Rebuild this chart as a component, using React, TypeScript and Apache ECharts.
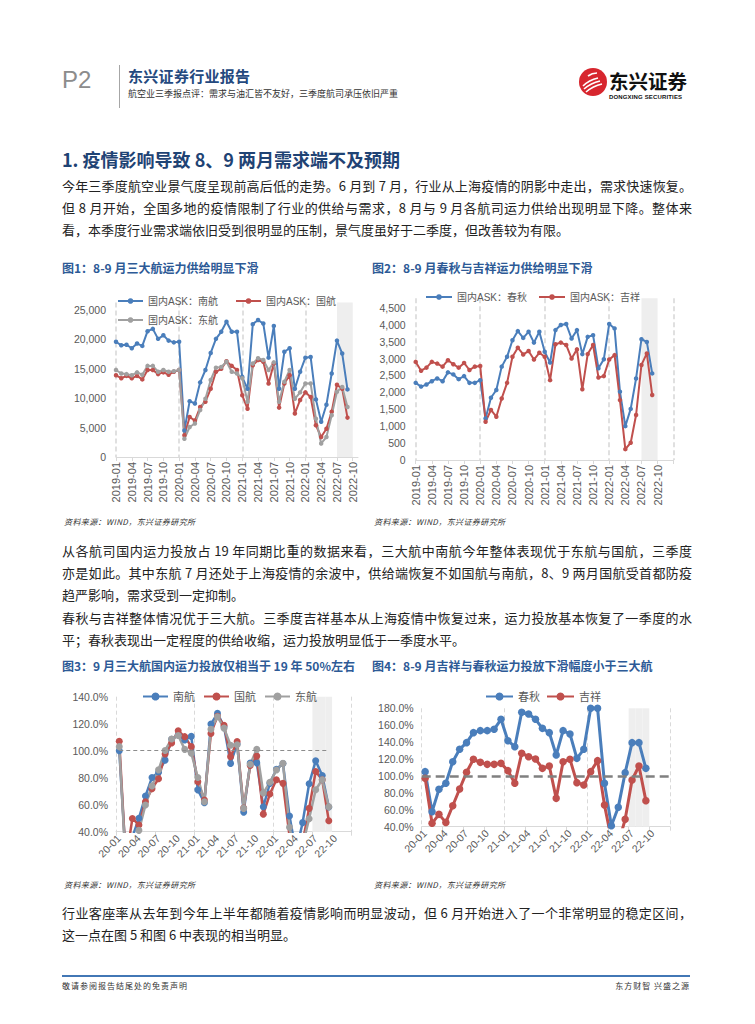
import React, { useEffect, useRef } from "react";
import * as echarts from "echarts";

const CN = '"Noto Sans CJK SC", "Noto Sans", sans-serif';
const AX = '"Liberation Sans", Arial, "Noto Sans CJK SC", sans-serif';
const BLUE = "#4A7EBB";
const RED = "#C0504D";
const GRAY = "#A0A0A0";
const LABEL = "#595959";
const GRIDC = "#D9D9D9";

const pad = (m: number) => (m < 10 ? "0" + m : "" + m);
const ym = (y0: number, n: number, short: boolean) =>
  Array.from({ length: n }, (_, k) => {
    const y = y0 + Math.floor(k / 12);
    const m = (k % 12) + 1;
    return (short ? String(y).slice(2) : String(y)) + "-" + pad(m);
  });

// ---------- Figure 1: domestic ASK of the big three (2019-01 … 2022-09)
const months1 = ym(2019, 47, false);
const askNanhang = [
  19600, 19000, 19100, 18500, 19300, 18900, 21400, 21800, 20100, 20700, 19800, 19500,
  19600, 4500, 9500, 9100, 12700, 14800, 17700, 20100, 21300, 23000, 21300, 21300,
  13600, 11600, 22600, 23300, 22700, 16900, 22300, 11600, 17900, 18500, 11600, 14500,
  16900, 17000, 9800, 6000, 8900, 14200, 19800, 17600, 11500,
];
const askGuohang = [
  13900, 13400, 13800, 13400, 13800, 13200, 14800, 14800, 14100, 14400, 14000, 14500,
  14800, 3700, 6800, 6200, 8500, 9400, 11600, 14500, 15000, 16300, 15500, 14800,
  10500, 8200, 15600, 16500, 16200, 12500, 15900, 8400, 12500, 13900, 7400, 9700,
  11000, 10200, 5400, 3400, 4800, 7700, 12300, 11600, 6700,
];
const askDonghang = [
  14800, 14200, 14100, 13900, 14400, 14000, 15500, 15500, 14500, 14800, 14500, 14600,
  14800, 3100, 5100, 5700, 8000, 9900, 13100, 15200, 15300, 16200, 14500, 14200,
  13400, 9400, 15900, 16800, 16500, 14800, 16100, 9400, 12800, 14800, 9900, 11000,
  12500, 12500, 6500, 2300, 3400, 7100, 11100, 11900, 8500,
];

// ---------- Figure 2: domestic ASK of Spring & Juneyao
const months2 = ym(2019, 49, false);
const askChunqiu = [
  2280, 2170, 2230, 2330, 2410, 2330, 2590, 2530, 2390, 2480, 2280, 2280,
  2360, 1230, 1840, 2070, 2760, 3050, 3540, 3810, 3610, 3790, 3470, 3790,
  3200, 2880, 3840, 3990, 4020, 3590, 3840, 3130, 3640, 3690, 2710, 2980,
  4020, 3890, 2020, 1000, 1510, 2410, 3570, 3490, 2560,
];
const askJixiang = [
  2900, 2640, 2730, 2900, 2850, 2760, 2950, 2830, 2730, 2870, 2660, 2760,
  2780, 1130, 1480, 1280, 1820, 2280, 3050, 3320, 3120, 3220, 2970, 3170,
  3050, 2360, 3420, 3470, 3400, 3000, 3270, 2090, 3130, 3400, 2440, 2480,
  2970, 3100, 1770, 320, 510, 1330, 2810, 3150, 1920,
];

// ---------- Figure 3 & 4: share of same month 2019 (20-01 … 22-09)
const months3 = ym(2020, 36, true);
const pctNanhang = [
  100, 20, 36, 50, 66.4, 80.2, 84, 93, 108.4, 111.6, 108, 110.6,
  71, 61.5, 119.7, 127.7, 117.8, 90.6, 105, 54.5, 90.8, 91, 58.5, 75.8,
  86.3, 90.5, 51.6, 25, 46.7, 75.5, 92.5, 81.6, 58.3,
];
const pctGuohang = [
  107, 18, 49.8, 45, 62.2, 71.9, 79.2, 97.5, 105.7, 114.7, 110.4, 103,
  77, 63.5, 112.8, 125.5, 118.8, 95.6, 106.8, 57.5, 89, 96, 53, 67.9,
  78.5, 75.8, 37, 20, 32, 57.3, 84.6, 78.5, 48.1,
];
const pctDonghang = [
  103, 15, 30, 41, 59.8, 73.8, 85.8, 100.2, 108.7, 111.2, 101, 98.2,
  80.1, 62.2, 115.9, 125.2, 116.7, 104.1, 104.4, 57.3, 89.9, 101, 68.6, 76.6,
  85.7, 90.6, 43.3, 20, 30, 49.6, 71.1, 78.5, 58.5,
];
const pctChunqiu = [
  105.1, 57.7, 84.2, 91.3, 116.9, 131.5, 139.4, 151.2, 153.6, 153.6, 155.2, 167,
  141.7, 134.6, 175.3, 173.3, 167, 156.3, 151.2, 124.8, 153.6, 149.6, 120.8, 131.5,
  180, 180, 91.3, 41.2, 62.9, 103.9, 139.4, 139.4, 109,
];
const pctJixiang = [
  97.2, 44, 54.6, 45.1, 64.8, 84.6, 104.3, 119.7, 116.1, 113.7, 113.7, 114.9,
  106.3, 91.3, 126.8, 122.8, 120.1, 109, 111.8, 73.5, 116.9, 119.7, 92.1, 89.3,
  105.1, 118.1, 65.6, 25, 20, 48.7, 95.2, 111.8, 70.8,
];
const shadeMonths = ["22-07", "22-08", "22-09"];
const shade3 = months3.map((c) => (shadeMonths.indexOf(c) >= 0 ? 1 : null));

function line(name: string, data: number[], color: string, width: number, size: number, extra: any = {}) {
  return {
    name,
    type: "line",
    data,
    symbol: "circle",
    symbolSize: size,
    showSymbol: true,
    showAllSymbol: true,
    clip: true,
    lineStyle: { color, width },
    itemStyle: { color },
    emphasis: { disabled: true },
    ...extra,
  };
}

function shadeBar(data: any[]) {
  return {
    name: "shade",
    type: "bar",
    data,
    yAxisIndex: 1,
    barWidth: "100%",
    barGap: "-100%",
    itemStyle: { color: "#EEEEEE" },
    silent: true,
    z: 1,
  };
}

const legendText = { fontSize: 10, color: LABEL, fontFamily: AX };

const opt1 = {
  animation: false,
  textStyle: { fontFamily: AX },
  legend: [
    { data: ["国内ASK：南航", "国内ASK：国航"], left: 57, top: 13, itemWidth: 25, itemHeight: 7, itemGap: 17, textStyle: legendText },
    { data: ["国内ASK：东航"], left: 57, top: 32, itemWidth: 25, itemHeight: 7, textStyle: legendText },
  ],
  grid: { left: 61, top: 24.4, width: 242, height: 154.6 },
  xAxis: {
    type: "category",
    data: months1,
    boundaryGap: false,
    axisLine: { lineStyle: { color: GRIDC } },
    axisTick: { show: true, interval: (i: number) => i % 3 === 0, length: 4, lineStyle: { color: GRIDC } },
    axisLabel: { interval: (i: number) => i % 3 === 0 && i <= 45, rotate: 90, fontSize: 11, color: LABEL, margin: 5 },
    splitLine: { show: true, interval: (i: number) => i % 12 === 0, lineStyle: { color: GRIDC, type: [5, 3], width: 1.6 } },
  },
  yAxis: {
    type: "value",
    min: 0,
    max: 26300,
    interval: 5000,
    axisLine: { show: false },
    axisTick: { show: false },
    splitLine: { show: false },
    axisLabel: { showMaxLabel: false, fontSize: 10.5, color: LABEL, margin: 10, formatter: (v: number) => v.toLocaleString("en-US") },
  },
  series: [
    line("国内ASK：南航", askNanhang, BLUE, 2, 4.5, {
      markArea: { silent: true, itemStyle: { color: "#EEEEEE" }, data: [[{ xAxis: "2022-07" }, { xAxis: "2022-10" }]] },
    }),
    line("国内ASK：国航", askGuohang, RED, 2, 4.5),
    line("国内ASK：东航", askDonghang, GRAY, 2, 4.5),
  ],
};

const opt2 = {
  animation: false,
  textStyle: { fontFamily: AX },
  legend: { data: ["国内ASK：春秋", "国内ASK：吉祥"], left: 55, top: 9, itemWidth: 26, itemHeight: 7, itemGap: 11, textStyle: legendText },
  grid: { left: 50.7, top: 20.3, width: 258, height: 161.7 },
  xAxis: {
    type: "category",
    data: months2,
    boundaryGap: false,
    axisLine: { lineStyle: { color: GRIDC } },
    axisTick: { show: true, interval: (i: number) => i % 3 === 0, length: 4, lineStyle: { color: GRIDC } },
    axisLabel: { interval: (i: number) => i % 3 === 0 && i <= 45, rotate: 90, fontSize: 11, color: LABEL, margin: 5 },
    splitLine: { show: true, interval: (i: number) => i % 12 === 0, lineStyle: { color: GRIDC, type: [5, 3], width: 1.6 } },
  },
  yAxis: {
    type: "value",
    min: 0,
    max: 4780,
    interval: 500,
    axisLine: { show: false },
    axisTick: { show: false },
    splitLine: { show: false },
    axisLabel: { showMaxLabel: false, fontSize: 10.5, color: LABEL, margin: 10, formatter: (v: number) => v.toLocaleString("en-US") },
  },
  series: [
    line("国内ASK：春秋", askChunqiu, BLUE, 2, 4.5, {
      markArea: { silent: true, itemStyle: { color: "#EEEEEE" }, data: [[{ xAxis: "2022-07" }, { xAxis: "2022-10" }]] },
    }),
    line("国内ASK：吉祥", askJixiang, RED, 2, 4.5),
  ],
};

function pctXAxis(tickEvery: number) {
  return {
    type: "category",
    data: months3,
    boundaryGap: true,
    axisLine: { lineStyle: { color: GRIDC } },
    axisTick: { show: true, interval: (i: number) => i % tickEvery === 0, length: 4, lineStyle: { color: GRIDC } },
    axisLabel: { interval: (i: number) => i % 3 === 0, rotate: 45, fontSize: 10.5, color: LABEL, margin: 5 },
    splitLine: { show: true, interval: (i: number) => i % 12 === 0, lineStyle: { color: GRIDC, type: [4, 3], width: 1 } },
  };
}
function pctYAxis(max: number) {
  return [
    {
      type: "value",
      min: 40,
      max,
      interval: 20,
      axisLine: { show: false },
      axisTick: { show: false },
      splitLine: { show: false },
      axisLabel: { fontSize: 10.5, color: LABEL, margin: 8, formatter: (v: number) => v.toFixed(1) + "%" },
    },
    { type: "value", min: 0, max: 1, show: false },
  ];
}

const legendText2 = { fontSize: 11, color: LABEL, fontFamily: AX };

const opt3 = {
  animation: false,
  textStyle: { fontFamily: AX },
  legend: { data: ["南航", "国航", "东航"], left: 82, top: 8, itemWidth: 25, itemHeight: 10, itemGap: 8, textStyle: legendText2 },
  grid: { left: 61, top: 18.7, width: 235.7, height: 135 },
  xAxis: pctXAxis(6),
  yAxis: pctYAxis(140),
  series: [
    shadeBar(shade3),
    line("南航", pctNanhang, BLUE, 2.5, 7, {
      markLine: {
        silent: true,
        symbol: "none",
        label: { show: false },
        lineStyle: { color: "#8C8C8C", type: [4, 3], width: 1 },
        data: [[{ xAxis: "20-01", yAxis: 100 }, { xAxis: "22-09", yAxis: 100 }]],
      },
    }),
    line("国航", pctGuohang, RED, 2.5, 7),
    line("东航", pctDonghang, GRAY, 2.5, 7),
  ],
};

const opt4 = {
  animation: false,
  textStyle: { fontFamily: AX },
  legend: { data: ["春秋", "吉祥"], left: 115, top: 8, itemWidth: 27, itemHeight: 10, itemGap: 6, textStyle: legendText2 },
  grid: { left: 56.7, top: 30.3, width: 248.3, height: 118.4 },
  xAxis: pctXAxis(3),
  yAxis: pctYAxis(180),
  series: [
    shadeBar(shade3),
    line("春秋", pctChunqiu, BLUE, 3, 7.5, {
      markLine: {
        silent: true,
        symbol: "none",
        label: { show: false },
        lineStyle: { color: "#808080", type: [9, 5], width: 2.5 },
        data: [{ yAxis: 100 }],
      },
    }),
    line("吉祥", pctJixiang, RED, 3, 7.5),
  ],
};

const EChart = ({ option, left, top, width, height }: any) => {
  const ref = useRef<HTMLDivElement>(null);
  useEffect(() => {
    if (!ref.current) return;
    const chart = echarts.init(ref.current, undefined, { renderer: "svg" });
    chart.setOption(option);
    return () => chart.dispose();
  }, [option]);
  return <div ref={ref} style={{ position: "absolute", left, top, width, height }} />;
};

const T = ({ x, y, size, children, color = "#222", bold = false, family = CN, lh = 1.5, style = {} }: any) => (
  <div
    style={{
      position: "absolute",
      left: x,
      top: y - (size * lh) / 2,
      fontSize: size,
      lineHeight: size * lh + "px",
      color,
      fontWeight: bold ? 700 : 400,
      fontFamily: family,
      whiteSpace: "nowrap",
      ...style,
    }}
  >
    {children}
  </div>
);

const Body = ({ y, text, justify = true }: any) => (
  <div
    style={{
      position: "absolute",
      left: 62,
      top: y - 10,
      width: 630,
      height: 20,
      lineHeight: "20px",
      fontSize: 13,
      color: "#222",
      fontFamily: CN,
      textAlign: justify ? "justify" : "left",
      textAlignLast: justify ? "justify" : "left",
    } as any}
  >
    {text}
  </div>
);

const TITLE_BLUE = "#2D5A96";
const SRC = "资料来源：WIND，东兴证券研究所";

export default function App() {
  return (
    <div style={{ position: "absolute", left: 0, top: 0, width: 755, height: 1024, background: "#fff", overflow: "hidden" }}>
      {/* header */}
      <T x={62} y={80} size={24} color="#8C8C8C" family={AX} lh={1.1}>P2</T>
      <div style={{ position: "absolute", left: 119, top: 65, width: 1.2, height: 43, background: "#A6A6A6" }} />
      <T x={128} y={76} size={15} bold color="#24497E" lh={1.15} style={{ letterSpacing: 0.3 }}>东兴证券行业报告</T>
      <T x={128} y={94} size={9} color="#333" lh={1.15}>航空业三季报点评：需求与油汇皆不友好，三季度航司承压依旧严重</T>
      <svg style={{ position: "absolute", left: 578, top: 67 }} width={30} height={30} viewBox="0 0 30 30">
        <circle cx={15} cy={15} r={14} fill="#D7262E" />
        <path d="M5 19 Q 11 13 20 11" stroke="#fff" strokeWidth={1.6} fill="none" />
        <path d="M6 22 Q 13 16 22 14" stroke="#fff" strokeWidth={1.6} fill="none" />
        <path d="M8 25 Q 15 19 24 17" stroke="#fff" strokeWidth={1.6} fill="none" />
        <path d="M10 9 Q 14 6 19 6" stroke="#fff" strokeWidth={1.6} fill="none" />
      </svg>
      <T x={609} y={81} size={19.5} bold color="#111" lh={1.0}>东兴证券</T>
      <T x={609} y={97} size={6} bold color="#111" family={AX} lh={1.0} style={{ letterSpacing: 0.15 }}>DONGXING SECURITIES</T>

      {/* section title */}
      <T x={62} y={160} size={18} bold color="#1F4374" lh={1.2}>1. 疫情影响导致 8、9 两月需求端不及预期</T>

      <Body y={186} text="今年三季度航空业景气度呈现前高后低的走势。6 月到 7 月，行业从上海疫情的阴影中走出，需求快速恢复。" />
      <Body y={208} text="但 8 月开始，全国多地的疫情限制了行业的供给与需求，8 月与 9 月各航司运力供给出现明显下降。整体来" />
      <Body y={230} text="看，本季度行业需求端依旧受到很明显的压制，景气度虽好于二季度，但改善较为有限。" justify={false} />

      <T x={62} y={268} size={12} bold color={TITLE_BLUE} lh={1.2}>图1：8-9 月三大航运力供给明显下滑</T>
      <T x={372} y={268} size={12} bold color={TITLE_BLUE} lh={1.2}>图2：8-9 月春秋与吉祥运力供给明显下滑</T>

      <EChart option={opt1} left={55} top={278} width={305} height={240} />
      <EChart option={opt2} left={365} top={278} width={310} height={240} />

      <T x={64} y={522} size={8} color="#333" lh={1.2} style={{ fontStyle: "italic", letterSpacing: 0.4 }}>{SRC}</T>
      <T x={374} y={522} size={8} color="#333" lh={1.2} style={{ fontStyle: "italic", letterSpacing: 0.4 }}>{SRC}</T>

      <Body y={551} text="从各航司国内运力投放占 19 年同期比重的数据来看，三大航中南航今年整体表现优于东航与国航，三季度" />
      <Body y={573} text="亦是如此。其中东航 7 月还处于上海疫情的余波中，供给端恢复不如国航与南航，8、9 两月国航受首都防疫" />
      <Body y={595} text="趋严影响，需求受到一定抑制。" justify={false} />

      <Body y={618} text="春秋与吉祥整体情况优于三大航。三季度吉祥基本从上海疫情中恢复过来，运力投放基本恢复了一季度的水" />
      <Body y={640} text="平；春秋表现出一定程度的供给收缩，运力投放明显低于一季度水平。" justify={false} />

      <T x={62} y={666} size={12} bold color={TITLE_BLUE} lh={1.2}>图3：9 月三大航国内运力投放仅相当于 19 年 50%左右</T>
      <T x={372} y={666} size={12} bold color={TITLE_BLUE} lh={1.2}>图4：8-9 月吉祥与春秋运力投放下滑幅度小于三大航</T>

      <EChart option={opt3} left={55} top={678} width={305} height={215} />
      <EChart option={opt4} left={365} top={678} width={310} height={215} />

      <T x={64} y={885} size={8} color="#333" lh={1.2} style={{ fontStyle: "italic", letterSpacing: 0.4 }}>{SRC}</T>
      <T x={374} y={885} size={8} color="#333" lh={1.2} style={{ fontStyle: "italic", letterSpacing: 0.4 }}>{SRC}</T>

      <Body y={913} text="行业客座率从去年到今年上半年都随着疫情影响而明显波动，但 6 月开始进入了一个非常明显的稳定区间，" />
      <Body y={935} text="这一点在图 5 和图 6 中表现的相当明显。" justify={false} />

      {/* footer */}
      <div style={{ position: "absolute", left: 62, top: 975, width: 628, height: 2, background: "#4277B5" }} />
      <T x={62} y={986} size={8} color="#333" lh={1.2} style={{ letterSpacing: 1 }}>敬请参阅报告结尾处的免责声明</T>
      <div style={{ position: "absolute", right: 65, top: 981, fontSize: 8, lineHeight: "10px", color: "#333", fontFamily: CN, letterSpacing: 1 }}>东方财智 兴盛之源</div>
    </div>
  );
}
